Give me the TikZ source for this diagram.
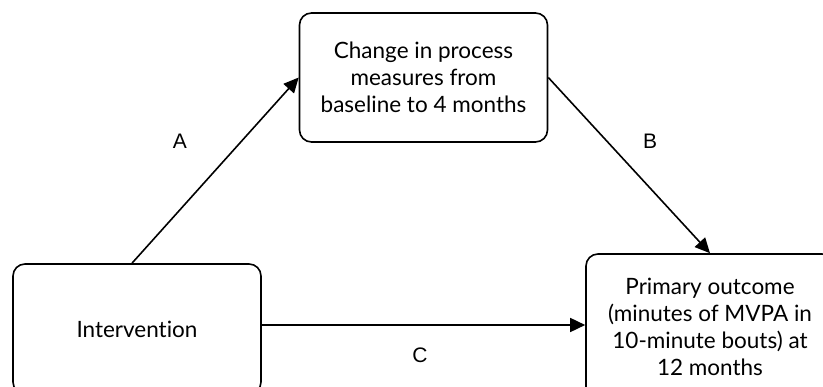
\documentclass[tikz,border=0pt]{standalone}
\usepackage{fontspec}
\setmainfont{Lato}[Ligatures=NoCommon]
\newfontfamily\labelfont{Liberation Sans}
\usetikzlibrary{arrows.meta,positioning}

\tikzset{
  stage/.style={draw, line width=1.6pt, rounded corners=12pt, minimum width=248pt,
    minimum height=129pt, align=center, inner sep=0pt,
    font=\fontsize{22.5}{27}\selectfont},
  path label/.style={font=\labelfont\fontsize{21}{24}\selectfont},
  link/.style={line width=1.6pt, -{Triangle[length=15pt,width=14pt]}},
}

\begin{document}
\begin{tikzpicture}[x=1pt,y=-1pt]
\clip (0,0) rectangle (823,387);
\node[stage] (proc) at (423.5,77.5) {Change in process\\measures from\\baseline to 4 months};
\node[stage, minimum height=130pt] (intv) at (137,329) {Intervention};
\node[stage, minimum height=146pt] (prim) at (710,327) {Primary outcome\\(minutes of MVPA in\\10-minute bouts) at\\12 months};
\draw[link] ([xshift=-5pt]intv.north) -- (proc.west);
\draw[link] (proc.east) -- (prim.north);
\draw[link] ([yshift=4pt]intv.east) -- ([yshift=4pt]intv.east -| prim.west);
\node[path label] (lblA) at (180,141.5) {A};
\node[path label] (lblB) at (650,141) {B};
\node[path label] (lblC) at (420,355) {C};
\end{tikzpicture}
\end{document}
